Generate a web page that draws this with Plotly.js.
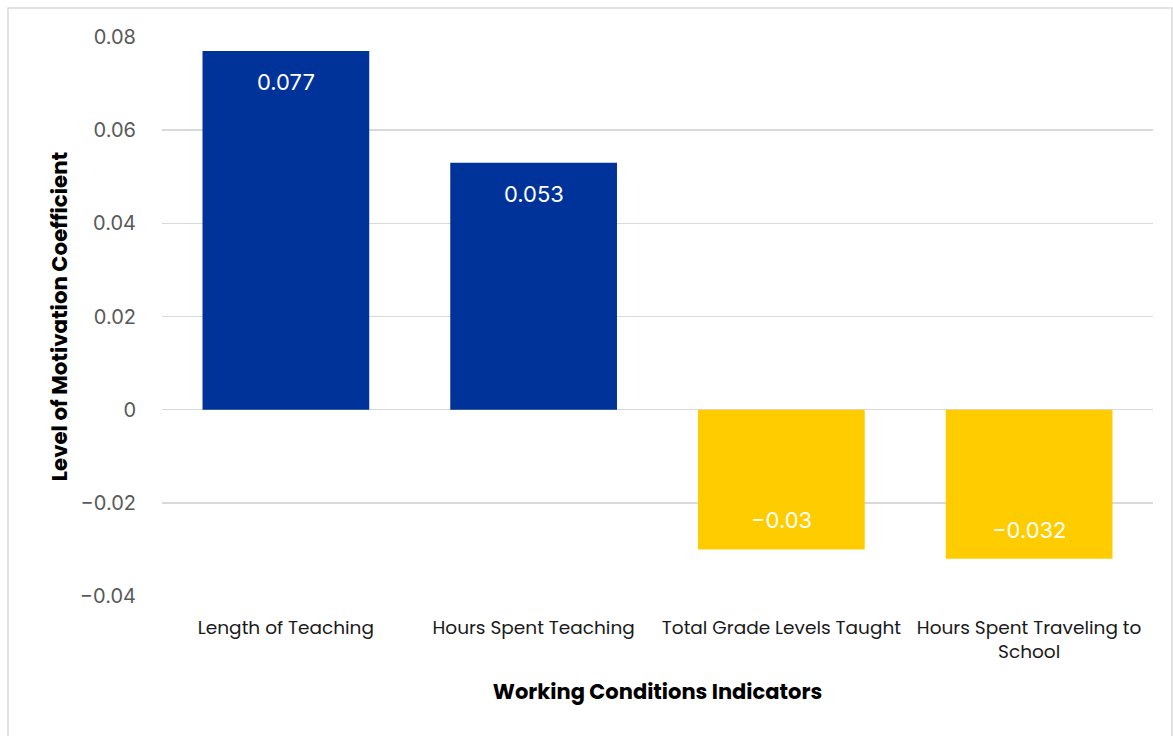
<!DOCTYPE html>
<html>
<head>
<meta charset="utf-8">
<script src="https://cdn.plot.ly/plotly-3.0.1.min.js"></script>
<style>
  html, body { margin: 0; padding: 0; background: #fff; }
  #chart { width: 1173px; height: 736px; }
</style>
</head>
<body>
<div id="chart"></div>
<script>
const categories = ["Length of Teaching", "Hours Spent Teaching", "Total Grade Levels Taught", "Hours Spent Traveling to<br>School"];
const values = [0.077, 0.053, -0.03, -0.032];
const valueLabels = ["0.077", "0.053", "\u22120.03", "\u22120.032"];
const yTickVals = [-0.04, -0.02, 0, 0.02, 0.04, 0.06, 0.08];
const yTickText = ["\u22120.04", "\u22120.02", "0", "0.02", "0.04", "0.06", "0.08"];

const blue = "#003399";
const yellow = "#FFCC00";
const poppins = "Poppins, 'Open Sans', sans-serif";
const inter = "Inter, 'Open Sans', sans-serif";

const trace = {
  type: "bar",
  x: categories,
  y: values,
  marker: { color: values.map(v => v >= 0 ? blue : yellow), line: { width: 0 } },
  hoverinfo: "none"
};

const annotations = values.map((v, i) => ({
  x: categories[i],
  y: v,
  xref: "x",
  yref: "y",
  text: valueLabels[i],
  showarrow: false,
  yanchor: "middle",
  yshift: v >= 0 ? -31 : 29,
  font: { family: inter, size: 22, color: "#ffffff" }
}));

const layout = {
  width: 1173,
  height: 736,
  margin: { l: 162, r: 20, t: 37, b: 140 },
  paper_bgcolor: "#ffffff",
  plot_bgcolor: "#ffffff",
  bargap: 0.327,
  showlegend: false,
  font: { family: poppins },
  xaxis: {
    type: "category",
    tickfont: { family: poppins, size: 18.5, color: "#1a1a1a" },
    ticks: "outside",
    ticklen: 15,
    tickcolor: "rgba(0,0,0,0)",
    showline: false,
    showgrid: false,
    zeroline: false,
    title: {
      text: "<b>Working Conditions Indicators</b>",
      font: { family: poppins, size: 21, color: "#000000" },
      standoff: 21
    }
  },
  yaxis: {
    range: [-0.04, 0.08],
    tickvals: yTickVals,
    ticktext: yTickText,
    tickfont: { family: inter, size: 20, color: "#595959" },
    ticks: "outside",
    ticklen: 21,
    tickcolor: "rgba(0,0,0,0)",
    showgrid: true,
    gridcolor: "#d9d9d9",
    gridwidth: 1.5,
    zeroline: true,
    zerolinecolor: "#d9d9d9",
    zerolinewidth: 1.5,
    showline: false,
    title: {
      text: "<b>Level of Motivation Coefficient</b>",
      font: { family: poppins, size: 21.3, color: "#000000" },
      standoff: 6
    }
  },
  annotations: annotations,
  shapes: [{
    type: "rect",
    xref: "paper", yref: "paper",
    x0: (8 - 162) / 991, x1: (1172 - 162) / 991,
    y0: (596 - 760) / 559, y1: (596 - 8) / 559,
    line: { color: "#d9d9d9", width: 1.5 },
    fillcolor: "rgba(0,0,0,0)",
    layer: "below"
  }]
};

Plotly.newPlot("chart", [trace], layout, { displayModeBar: false, staticPlot: true });
</script>
</body>
</html>
